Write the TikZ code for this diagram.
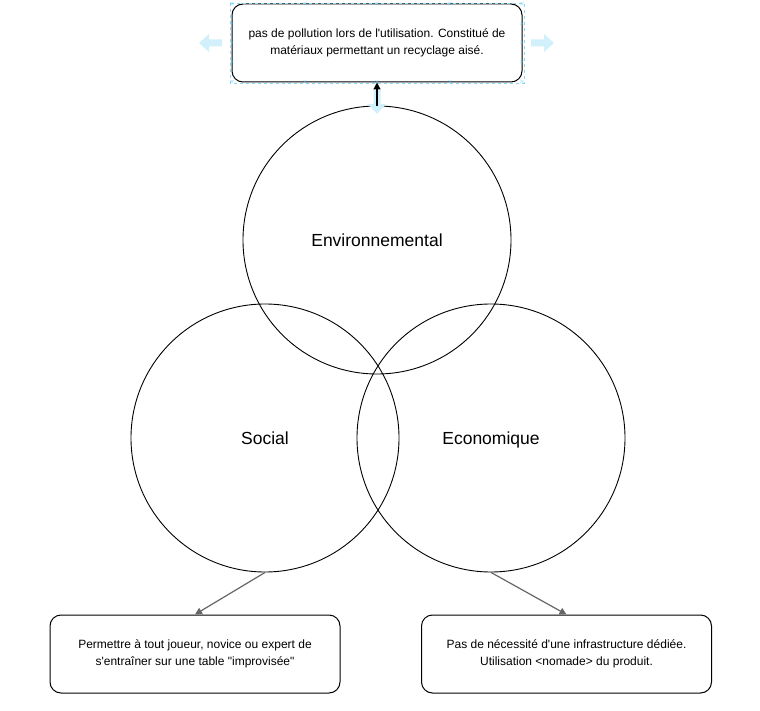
\documentclass[tikz,border=0pt]{standalone}
\usepackage{fontspec}
\setmainfont{Liberation Sans}
\usetikzlibrary{arrows.meta}
\begin{document}
\begin{tikzpicture}[x=1pt,y=-1pt,
  txtbox/.style={draw=black,line width=1pt,rounded corners=11pt,minimum width=290pt,minimum height=78pt,align=center,font=\fontsize{12}{16.5}\selectfont,inner sep=0pt},
  ring/.style={draw=black,line width=0.9pt,circle,minimum size=268pt,inner sep=0pt,font=\fontsize{17.5}{20}\selectfont},
  lbl/.style={inner sep=0pt,font=\fontsize{17.5}{20}\selectfont,text height=12.5pt,text depth=0pt},
  link/.style={draw=black!60,line width=1.2pt,-{Triangle[length=7pt,width=7pt]}},
  sel/.style={draw=cyan!45,dashed,line width=0.6pt},
  handle/.style={fill=cyan!18,draw=none}
]
\useasboundingbox (0,0) rectangle (760,711);
\node[txtbox] (env-box) at (377,43) {pas de pollution lors de l\textquotesingle utilisation. Constitué de\\matériaux permettant un recyclage aisé.};
\node[ring] (env) at (377,240) {};
\node[ring] (soc) at (265,438) {};
\node[ring] (eco) at (491,438) {};
\node[lbl] (env-lbl) at (377,240) {Environnemental};
\node[lbl] (soc-lbl) at (265,438) {Social};
\node[lbl] (eco-lbl) at (491,438) {Economique};
\node[txtbox] (soc-box) at (195,654) {Permettre à tout joueur, novice ou expert de\\s\textquotesingle entraîner sur une table \textquotedbl improvisée\textquotedbl};
\node[txtbox] (eco-box) at (566.5,654) {Pas de nécessité d\textquotesingle une infrastructure dédiée.\\Utilisation <nomade> du produit.};
% selection artefacts
\draw[sel] (230,3) rectangle (524,83);
\fill[handle] (199,43) -- (209,34) -- (209,39.5) -- (222,39.5) -- (222,46.5) -- (209,46.5) -- (209,52) -- cycle;
\fill[handle] (554,43) -- (544,34) -- (544,39.5) -- (531,39.5) -- (531,46.5) -- (544,46.5) -- (544,52) -- cycle;
\fill[handle] (377,114) -- (368,104) -- (373.5,104) -- (373.5,90) -- (380.5,90) -- (380.5,104) -- (386,104) -- cycle;
\foreach \p in {(232,4),(305,4),(377,4),(450,4),(522,4),(232,24),(232,43),(232,62),(522,24),(522,43),(522,62),(232,82),(305,82),(377,82),(450,82),(522,82)}{
  \node[text=cyan!70,inner sep=0pt,font=\fontsize{6}{6}\selectfont] at \p {$\times$};
}
\draw[line width=1.2pt,-{Triangle[length=7pt,width=7pt]}] (env.north) -- (env-box.south);
\draw[link] (soc.south) -- (soc-box.north);
\draw[link] (eco.south) -- (eco-box.north);
\end{tikzpicture}
\end{document}
